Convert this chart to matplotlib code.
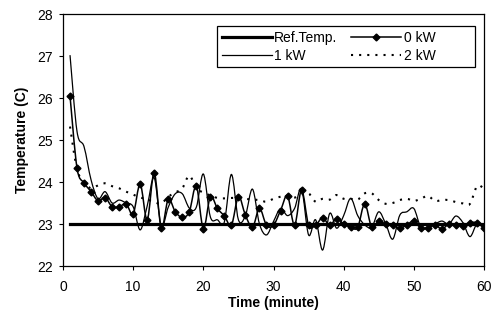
import numpy as np
import matplotlib
matplotlib.use('Agg')
import matplotlib.pyplot as plt
from matplotlib.path import Path
from matplotlib.patches import PathPatch, Rectangle
from matplotlib.lines import Line2D

plt.rcParams['font.family'] = ['Liberation Sans', 'DejaVu Sans']

minutes = list(range(1, 61))
ref_temp = [23.0] * 60
kw0 = [26.05, 24.33, 23.98, 23.77, 23.55, 23.63, 23.41, 23.41, 23.48, 23.24,
       23.95, 23.10, 24.22, 22.91, 23.59, 23.29, 23.16, 23.29, 23.90, 22.89,
       23.65, 23.37, 23.19, 22.97, 23.65, 23.21, 22.92, 23.37, 22.97, 22.97,
       23.32, 23.67, 22.97, 23.81, 22.97, 22.97, 23.15, 22.97, 23.13, 23.00,
       22.92, 22.92, 23.48, 22.92, 23.07, 23.00, 22.98, 22.90, 22.98, 23.07,
       22.90, 22.90, 22.98, 22.88, 23.00, 22.98, 22.96, 23.03, 23.03, 22.90]
kw1 = [27.02, 25.20, 24.84, 24.05, 23.60, 23.77, 23.50, 23.57, 23.50, 23.41,
       22.86, 23.43, 24.10, 22.95, 23.40, 23.72, 23.72, 23.38, 23.40, 24.19,
       23.17, 23.10, 23.05, 24.18, 23.10, 23.20, 23.83, 23.00, 22.74, 23.06,
       23.37, 23.20, 23.37, 23.83, 22.74, 23.10, 22.38, 23.25, 22.90, 23.20,
       23.61, 23.20, 22.98, 22.92, 23.29, 23.00, 22.64, 23.21, 23.29, 23.37,
       22.92, 22.93, 23.00, 23.07, 23.00, 23.19, 23.03, 22.70, 23.00, 22.90]
kw2 = [25.32, 24.30, 24.00, 23.85, 23.92, 23.97, 23.90, 23.85, 23.77, 23.70,
       23.63, 23.59, 23.52, 23.49, 23.65, 23.75, 23.85, 24.15, 23.85, 23.75,
       23.68, 23.62, 23.61, 23.62, 23.62, 23.60, 23.58, 23.57, 23.53, 23.60,
       23.65, 23.68, 23.63, 23.70, 23.73, 23.53, 23.60, 23.58, 23.69, 23.60,
       23.60, 23.58, 23.73, 23.73, 23.57, 23.48, 23.50, 23.57, 23.60, 23.55,
       23.60, 23.67, 23.55, 23.57, 23.57, 23.52, 23.49, 23.48, 23.90, 23.85]


def smooth(x, y):
    # bezier path through the points, like a spreadsheet "smoothed line"
    n = len(x)
    verts = [(x[0], y[0])]
    codes = [Path.MOVETO]
    for i in range(n - 1):
        a = max(i - 1, 0)
        b = min(i + 2, n - 1)
        c1 = (x[i] + (x[i + 1] - x[a]) / 6, y[i] + (y[i + 1] - y[a]) / 6)
        c2 = (x[i + 1] - (x[b] - x[i]) / 6, y[i + 1] - (y[b] - y[i]) / 6)
        verts += [c1, c2, (x[i + 1], y[i + 1])]
        codes += [Path.CURVE4] * 3
    return Path(verts, codes)


dots = (0, (1, 2.9))

fig = plt.figure(figsize=(4.93, 3.24), dpi=100)
ax = fig.add_axes([63 / 493, 1 - 266 / 324, 421 / 493, 252 / 324])

ax.add_patch(PathPatch(smooth(minutes, kw2), fill=False, color='black', lw=1.5, ls=dots))
ax.add_patch(PathPatch(smooth(minutes, kw1), fill=False, color='black', lw=0.9))
ax.add_patch(PathPatch(smooth(minutes, kw0), fill=False, color='black', lw=1.1))
ax.plot(minutes, kw0, ls='none', marker='D', ms=3.5, color='black')
ax.plot(minutes, ref_temp, color='black', lw=2.3)

ax.set_xlim(0, 60)
ax.set_ylim(22, 28)
ax.set_xticks(range(0, 61, 10))
ax.set_yticks(range(22, 29))
ax.tick_params(direction='out', length=3, width=0.8, labelsize=10, colors='black')
ax.tick_params(axis='x', pad=7)
ax.tick_params(axis='y', pad=4.3)
for s in ax.spines.values():
    s.set_linewidth(0.9)
ax.set_xlabel('Time (minute)', fontsize=10, fontweight='bold', labelpad=1.5)
ax.set_ylabel('Temperature (C)', fontsize=10, fontweight='bold', labelpad=6)

# legend box drawn on its own so it spans the same width as the original
ax.add_patch(Rectangle((0.366, 0.79), 0.612, 0.162, transform=ax.transAxes,
                       facecolor='white', edgecolor='black', lw=0.9, zorder=4))
handles = [Line2D([], [], color='black', lw=2.3),
           Line2D([], [], color='black', lw=0.9),
           Line2D([], [], color='black', lw=1.1, marker='D', ms=3.5),
           Line2D([], [], color='black', lw=1.5, ls=dots)]
labels = ['Ref.Temp.', '1 kW', '0 kW', '2 kW']
leg = ax.legend(handles, labels, ncol=2, fontsize=10, loc='upper left',
                bbox_to_anchor=(0.3765, 0.934), frameon=False,
                handlelength=3.6, handletextpad=0.2, columnspacing=1.0,
                labelspacing=0.3, borderaxespad=0, borderpad=0)
leg.set_zorder(5)

fig.savefig('out.png', dpi=100)
